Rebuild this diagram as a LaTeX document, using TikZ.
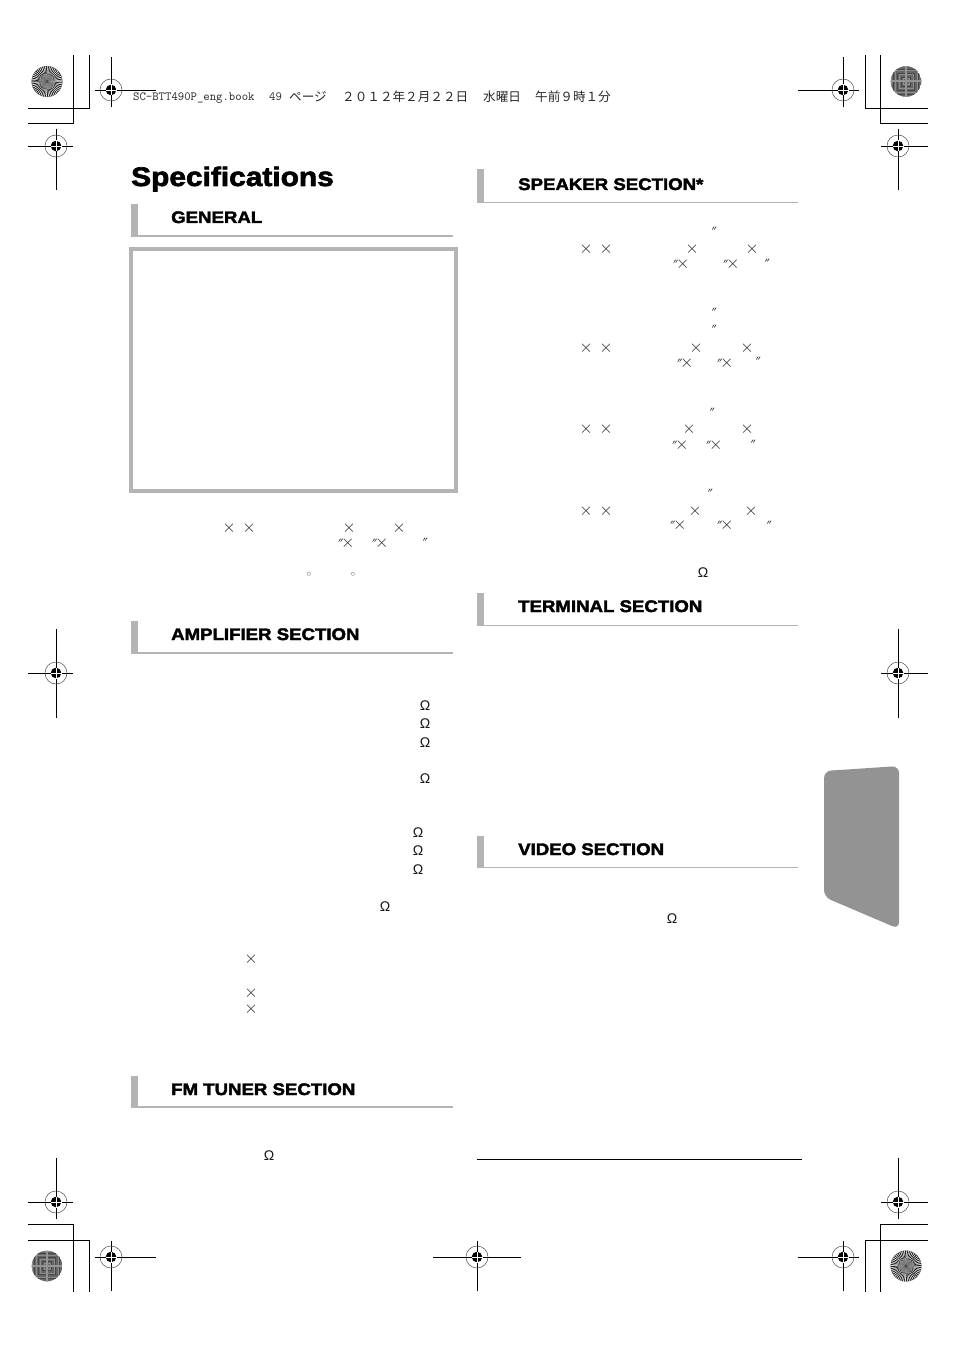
\documentclass[tikz,border=0pt]{standalone}
\usepackage{fontspec}
\newfontfamily\headfont[FakeBold=2.4,FakeStretch=1.115]{Liberation Sans Bold}
\newfontfamily\cjkfont{Noto Sans CJK JP}
\newfontfamily\symbfont{Liberation Sans}
\newfontfamily\primefont[FakeSlant=0.4]{Liberation Sans}
\definecolor{barGray}{HTML}{B4B4B4}
\definecolor{tabGray}{HTML}{949393}
\tikzset{
  titletext/.style={anchor=base west,inner sep=0pt,font=\headfont\fontsize{26.8}{27}\selectfont},
  headtext/.style={anchor=base west,inner sep=0pt,font=\headfont\fontsize{16.7}{17}\selectfont},
  slugtext/.style={anchor=base west,inner sep=0pt,text=black!85,font=\ttfamily\fontsize{12.4}{12.4}\selectfont},
  slugcjk/.style={anchor=base west,inner sep=0pt,text=black!85,font=\cjkfont\fontsize{12.6}{12.6}\selectfont},
  timesmark/.style={inner sep=0pt,text=black!85,font=\fontsize{16}{16}\selectfont},
  primemark/.style={inner sep=0pt,text=black!85,font=\primefont\fontsize{12}{12}\selectfont},
  pairmark/.style={anchor=base east,inner sep=0pt,text=black!85,font=\fontsize{16}{16}\selectfont},
  ohmmark/.style={inner sep=0pt,text=black!90,font=\symbfont\fontsize{14}{14}\selectfont},
  degmark/.style={inner sep=0pt,text=black!60,font=\fontsize{9}{9}\selectfont},
  cropline/.style={black,line width=0.8pt},
  regline/.style={black,line width=0.9pt}
}
\begin{document}
\begin{tikzpicture}[x=1pt,y=-1pt]
\useasboundingbox (0,0) rectangle (954,1348);
%crop lines
\draw[cropline](28,123)-|(73.5,55);
\draw[cropline](28,108)-|(89,55);
\draw[cropline](928,108)-|(865,55);
\draw[cropline](928,123)-|(880,55);
\draw[cropline](28,1224)-|(73.5,1292);
\draw[cropline](28,1240)-|(89,1292);
\draw[cropline](928,1240)-|(865,1292);
\draw[cropline](928,1224)-|(880,1292);
%registration marks
\foreach \x/\y/\l/\r/\t/\b in {111/90/95/156/57/107,56/146/28/73/129/190,843/90/798/859/57/107,898/146/881/928/129/190,
  56/673/28/73/629/718,898/673/881/928/629/718,56/1202/28/73/1158/1219,898/1202/881/928/1158/1219,
  111/1257/95/156/1241/1291,477/1257/433/521/1241/1291,843/1257/798/859/1241/1291}{
  \draw[regline](\l,\y)--(\r,\y);
  \draw[regline](\x,\t)--(\x,\b);
  \draw[black!70,line width=0.5pt](\x,\y) circle (11pt);
  \fill[black](\x,\y) circle (5.3pt);
  \draw[white,line width=0.6pt](\x-5.5,\y)--(\x+5.5,\y);
  \draw[white,line width=0.6pt](\x,\y-5.5)--(\x,\y+5.5);
}
%rosettes with spokes
\foreach \x/\y in {47/81.5,906/1266}{
  \fill[white](\x,\y) circle (15.3pt);
  \foreach \a in {0,7.5,...,352.5}
    \fill[black!90](\x,\y)--++(\a:15.3pt)--++(\a+90:1pt)--cycle;
  \fill[black!45,opacity=0.5](\x,\y) circle (7pt);
  \fill[black!70](\x,\y) circle (1.5pt);
  \draw[black!60,line width=0.4pt](\x,\y) circle (15.3pt);
}
%rosettes with a woven look
\foreach \x/\y in {906/81.5,47/1266}{
  \begin{scope}
  \clip(\x,\y) circle (15.3pt);
  \fill[black!60](\x,\y) circle (15.3pt);
  \foreach \r in {3,7,11,15,19}{
    \draw[black!45,line width=1pt](\x-\r,\y-\r) rectangle (\x+\r,\y+\r);
    \draw[black!72,line width=0.7pt](\x-\r-1.5,\y-\r-1.5) rectangle (\x+\r+1.5,\y+\r+1.5);
  }
  \draw[black!42,line width=2pt](\x-16,\y)--(\x+16,\y);
  \draw[black!42,line width=2pt](\x,\y-16)--(\x,\y+16);
  \end{scope}
}
%page slug
\path (133,101) node(slugname)[slugtext]{SC-BTT490P\_eng.book}
(269,101) node(slugnum)[slugtext]{49}
(289,102) node(slugpage)[slugcjk]{ページ}
(342,102) node(slugdate)[slugcjk]{２０１２年２月２２日}
(483,102) node(slugday)[slugcjk]{水曜日}
(535,102) node(slugtime)[slugcjk]{午前９時１分};
%title and section heads
\path (131,186) node(title)[titletext]{Specifications}
(171,223) node(general)[headtext]{GENERAL}
(171,640) node(amplifier)[headtext]{AMPLIFIER SECTION}
(171,1095) node(tuner)[headtext]{FM TUNER SECTION}
(518,190) node(speaker)[headtext]{SPEAKER SECTION*}
(518,612) node(terminal)[headtext]{TERMINAL SECTION}
(518,855) node(video)[headtext]{VIDEO SECTION};
\foreach \t/\b in {204/236,621/653,1076/1107}{
  \fill[barGray](131,\t) rectangle (138,\b);
  \draw[barGray,line width=2pt](131,\b-0.3)--(453,\b-0.3);
}
\foreach \t/\b/\w in {169/203/1,593/626/1.6,836/868/1}{
  \fill[barGray](477,\t) rectangle (484,\b);
  \draw[barGray,line width=\w pt](477,\b-0.5)--(798,\b-0.5);
}
%empty frame, footnote rule, side tab
\draw[barGray,line width=4pt](131,249) rectangle (456,491);
\draw[black,line width=0.9pt](477,1159.5)--(802,1159.5);
\fill[tabGray,rounded corners=7pt](824,771)--(899,766)--(899,929)--(824,897)--cycle;
%loose symbols
\foreach \x/\y [count=\i] in {229/528,249/528,349/528,399/528,
  586/249,606/249,692/249,752/249,
  586/348,606/348,696/348,747/348,
  586/429,606/429,689/429,747/429,
  586/511,606/511,695/511,751/511,
  251/959,251/993,251/1009}
  \node[timesmark](times\i) at (\x,\y){$\times$};
\foreach \x/\y [count=\i] in {348.5/543,382.5/543,683.5/264,733.5/264,687.5/363,727.5/363,
  682.5/445,716.5/445,680.5/525,727.5/525}
  \node[pairmark](pair\i) at (\x+6.2,\y+4){{\primefont\fontsize{12}{12}\selectfont ″}\kern1pt$\times$};
\foreach \x/\y [count=\i] in {422.5/542.5,711.5/231.5,764.5/263.5,711.5/312.5,711.5/329.5,
  755.5/361.5,709.5/412.5,750.5/444.5,707.5/493.5,766.5/525.5}
  \node[primemark](prime\i) at (\x,\y){″};
\foreach \x/\y [count=\i] in {425/705.5,425/723.5,425/742.5,425/778.5,418/832.5,418/850.5,418/869.5,385/906.5,
  269/1155.5,703/572.5,672/918.5}
  \node[ohmmark](ohm\i) at (\x,\y){Ω};
\foreach \x/\y [count=\i] in {309/574.5,353/574.5}
  \node[degmark](deg\i) at (\x,\y){$\circ$};
\end{tikzpicture}
\end{document}
